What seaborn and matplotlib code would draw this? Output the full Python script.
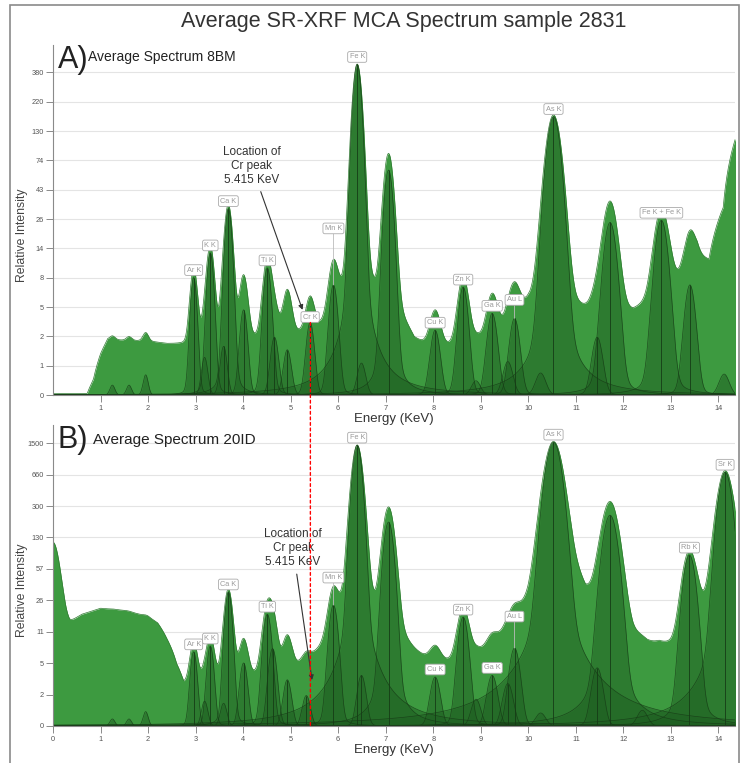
import numpy as np
import matplotlib
matplotlib.use("Agg")
import matplotlib.pyplot as plt
import seaborn as sns
from matplotlib.patches import ConnectionPatch, Rectangle

sns.set_theme(style="white")
plt.rcParams['font.family'] = ['Liberation Sans', 'DejaVu Sans']

# ---- panel A : 8BM ----
a_energy = [1.25, 1.60, 1.95, 2.96, 3.19, 3.31, 3.59, 3.69, 4.01, 4.51, 4.66, 4.93, 5.41, 5.90, 6.40, 6.49,
            7.06, 8.04, 8.63, 8.90, 9.24, 9.57, 9.71, 10.26, 10.53, 11.45, 11.72, 12.80, 13.40, 14.12]
a_fit = [0.2, 0.2, 0.45, 7.7, 1.0, 12.7, 1.45, 30, 3.8, 9.4, 1.9, 1.3, 2.8, 6.6, 440, 0.8,
         62, 2.3, 6.3, 0.3, 3.5, 0.85, 3.1, 0.5, 168, 1.9, 23, 24, 6.6, 0.47]
a_total = [0.2, 0.2, 0.45, 7.7, 1.0, 12.7, 1.45, 30, 6.2, 9.4, 1.9, 3.9, 2.8, 6.9, 440, 0.8,
           81, 2.3, 6.3, 0.3, 3.5, 0.85, 3.4, 0.5, 170, 1.9, 31, 24, 10, 0.5]
a_sigma = [0.05, 0.05, 0.05, 0.06, 0.06, 0.065, 0.065, 0.07, 0.07, 0.075, 0.075, 0.075, 0.075, 0.08, 0.08, 0.08,
           0.085, 0.09, 0.09, 0.09, 0.095, 0.095, 0.095, 0.1, 0.13, 0.1, 0.12, 0.12, 0.1, 0.1]
a_bg_energy = [0.0, 0.72, 0.85, 1.0, 1.15, 1.5, 2.0, 2.4, 2.8, 3.5, 4.2, 4.8, 5.2, 5.6, 6.0, 6.8, 7.3, 7.6,
               8.0, 8.4, 8.9, 9.5, 10.0, 11.0, 11.3, 12.2, 12.6, 13.0, 13.3, 13.55, 13.8, 14.1, 14.4]
a_bg_value = [0, 0, 0.3, 1.1, 1.75, 1.7, 1.65, 1.5, 1.45, 1.5, 1.6, 1.7, 1.8, 1.8, 2.5, 3, 2.2, 1.2,
              1.1, 1.2, 1.3, 1.8, 3.5, 2.8, 3.0, 3.3, 4.5, 6.5, 8, 12, 11, 30, 125]
a_yticks = ["0", "1", "2", "5", "8", "14", "26", "43", "74", "130", "220", "380"]
a_labels = ["Ar K", "K K", "Ca K", "Ti K", "Cr K", "Mn K", "Fe K", "Cu K", "Zn K", "Ga K", "Au L", "As K", "Fe K + Fe K"]
a_label_energy = [2.96, 3.31, 3.69, 4.51, 5.41, 5.90, 6.40, 8.04, 8.63, 9.24, 9.71, 10.53, 12.80]

# ---- panel B : 20ID ----
b_energy = [0.0, 1.25, 1.60, 1.95, 2.96, 3.19, 3.31, 3.59, 3.69, 4.01, 4.51, 4.62, 4.93, 5.33, 5.90, 6.40, 6.49,
            7.06, 8.04, 8.63, 8.90, 9.24, 9.57, 9.71, 10.26, 10.53, 11.45, 11.72, 12.40, 13.39, 14.14]
b_fit = [0, 0.2, 0.2, 0.45, 5.8, 0.9, 6.9, 0.8, 31, 4.1, 17, 6.4, 2.3, 1.2, 21.8, 1425, 2.7,
         194, 2.55, 15.7, 1.0, 2.7, 2.0, 6.5, 0.4, 1540, 3.5, 232, 0.5, 82, 707]
b_total = [100, 0.2, 0.2, 0.45, 5.8, 0.9, 6.9, 0.8, 31, 5.9, 17, 12, 6.0, 1.2, 23, 1425, 2.7,
           279, 2.55, 15.7, 1.0, 2.7, 2.0, 6.5, 0.4, 1540, 3.5, 317, 0.5, 82, 707]
b_sigma = [0.1, 0.05, 0.05, 0.05, 0.06, 0.06, 0.062, 0.062, 0.065, 0.07, 0.075, 0.075, 0.075, 0.075, 0.08, 0.085, 0.08,
           0.09, 0.09, 0.09, 0.09, 0.095, 0.095, 0.095, 0.1, 0.14, 0.1, 0.13, 0.1, 0.11, 0.12]
b_bg_energy = [0.0, 0.35, 0.6, 1.0, 1.5, 2.0, 2.2, 2.4, 2.6, 2.75, 2.85, 3.5, 5.0, 5.6, 6.0, 7.5, 8.0, 9.0,
               9.6, 10.0, 10.9, 11.2, 12.2, 12.5, 12.75, 13.0, 13.2, 13.7, 14.0, 14.4]
b_bg_value = [15, 12, 16, 19.5, 18.5, 15.5, 13, 8, 3.5, 1.5, 1.4, 1.4, 1.4, 1.4, 1.6, 1.6, 1.2, 1.2,
              2.0, 5, 40, 15, 2.5, 2.2, 3.0, 2.2, 2.0, 10, 20, 50]
b_yticks = ["0", "2", "5", "11", "26", "57", "130", "300", "660", "1500"]
b_labels = ["Ar K", "K K", "Ca K", "Ti K", "Mn K", "Fe K", "Cu K", "Zn K", "Ga K", "Au L", "As K", "Rb K", "Sr K"]
b_label_energy = [2.96, 3.31, 3.69, 4.51, 5.90, 6.40, 8.04, 8.63, 9.24, 9.71, 10.53, 13.39, 14.14]

cr_energy = 5.415

LIGHT = "#3d9a40"
DARK = "#1f5e21"
EDGE = "#163b16"

energy = np.linspace(0, 14.4, 2400)


def peak(e0, h, s, eta):
    g = np.exp(-0.5 * ((energy - e0) / s) ** 2)
    lo = 1.0 / (1.0 + ((energy - e0) / (1.1774 * s)) ** 2)
    return h * ((1 - eta) * g + eta * lo)


def fwd(y):
    return np.log10(1 + np.clip(y, 0, None))


def inv(t):
    return 10 ** t - 1


def draw_panel(ax, e_list, fit, total, sig, bg_e, bg_v, env_scale, env_eta, eta, top):
    env = np.interp(energy, bg_e, bg_v)
    for e0, h, s in zip(e_list, total, sig):
        env = env + peak(e0, h, s * env_scale, env_eta)
    ax.fill_between(energy, 0, env, color=LIGHT, lw=0, zorder=1)
    sns.lineplot(x=energy, y=env, ax=ax, color="#2f7a31", lw=0.5, estimator=None, zorder=2)
    for e0, h, s in zip(e_list, fit, sig):
        if h <= 0:
            continue
        comp = peak(e0, h, s, eta)
        ax.fill_between(energy, 0, comp, color=DARK, alpha=0.5, lw=0, zorder=3)
        ax.plot(energy, comp, color=EDGE, lw=0.5, alpha=0.8, zorder=4)
        if h > 1:
            ax.vlines(e0, 0, h, color=EDGE, lw=0.6, zorder=5)
    ax.set_yscale("function", functions=(fwd, inv))
    ax.set_xlim(0, 14.35)
    ax.set_ylim(0, top)


def style_axes(ax, ylabels, top_val, xticks, label_y):
    n = len(ylabels) - 1
    pos = [inv(k * fwd(top_val) / n) for k in range(n + 1)]
    ax.set_yticks(pos)
    ax.set_yticklabels(ylabels)
    ax.set_xticks(xticks)
    ax.set_xticklabels([str(v) for v in xticks])
    ax.yaxis.grid(True, color="#e4e4e4", lw=0.8)
    ax.xaxis.grid(False)
    ax.set_axisbelow(True)
    for sp in ["top", "right"]:
        ax.spines[sp].set_visible(False)
    for sp in ["left", "bottom"]:
        ax.spines[sp].set_color("#8a8a8a")
        ax.spines[sp].set_linewidth(0.8)
        ax.spines[sp].set_zorder(6)
    ax.tick_params(axis="y", left=True, length=5, width=0.7, color="#8a8a8a", labelsize=5.3,
                   labelcolor="#555555", pad=1.5)
    ax.tick_params(axis="x", bottom=True, length=5, width=0.7, color="#8a8a8a", labelsize=5.3,
                   labelcolor="#555555", pad=2)
    ax.set_ylabel("Relative Intensity", fontsize=8.8, color="#444444")
    ax.yaxis.set_label_coords(-0.037, label_y)
    ax.set_xlabel("Energy (KeV)", fontsize=9.5, color="#333333", labelpad=1)


def label_peaks(ax, names, energies, e_list, fit, offsets):
    for name, e0 in zip(names, energies):
        h = fit[e_list.index(e0)]
        dy = offsets.get(name, 4)
        ax.annotate(name, xy=(e0, h), xytext=(0, dy), textcoords="offset pixels",
                    ha="center", va="bottom", fontsize=5.3, color="#9a9a9a", zorder=8,
                    bbox=dict(boxstyle="round,pad=0.25", fc="white", ec="#aaaaaa", lw=0.6),
                    arrowprops=dict(arrowstyle="-", color="#bbbbbb", lw=0.6, shrinkA=0, shrinkB=0)
                    if dy > 10 else None)


fig = plt.figure(figsize=(7.41, 7.63), dpi=100)
axA = fig.add_axes([0.0715, 0.4823, 0.9205, 0.4587])
axB = fig.add_axes([0.0715, 0.0485, 0.9205, 0.3945])

draw_panel(axA, a_energy, a_fit, a_total, a_sigma, a_bg_energy, a_bg_value, 1.1, 0.1, 0.08, 630)
draw_panel(axB, b_energy, b_fit, b_total, b_sigma, b_bg_energy, b_bg_value, 1.15, 0.15, 0.06, 2400)
style_axes(axA, a_yticks, 380, list(range(1, 15)), 0.457)
style_axes(axB, b_yticks, 1500, list(range(0, 15)), 0.452)

label_peaks(axA, a_labels, a_label_energy, a_energy, a_fit, {"Mn K": 53, "Au L": 15, "Cr K": 2})
label_peaks(axB, b_labels, b_label_energy, b_energy, b_fit, {"Mn K": 24, "Au L": 28})

note = "Location of\nCr peak\n5.415 KeV"
axA.annotate(note, xy=(5.25, 3.8), xytext=(4.18, 67), ha="center", va="center", fontsize=8.5,
             color="#333333", zorder=9,
             arrowprops=dict(arrowstyle="-|>", color="#333333", lw=0.8, mutation_scale=7, shrinkA=2, shrinkB=0))
axB.annotate(note, xy=(5.45, 2.28), xytext=(5.05, 98), ha="center", va="center", fontsize=8.5,
             color="#333333", zorder=9,
             arrowprops=dict(arrowstyle="-|>", color="#333333", lw=0.8, mutation_scale=7, shrinkA=2, shrinkB=0))

cr_h = a_fit[a_energy.index(5.41)]
con = ConnectionPatch(xyA=(cr_energy, cr_h), coordsA=axA.transData, xyB=(cr_energy, 0), coordsB=axB.transData,
                      color="red", lw=1.0, linestyle=(0, (2, 2)), zorder=10)
fig.add_artist(con)

axA.text(0.007, 1.0, "A)", transform=axA.transAxes, fontsize=22, va="top", ha="left", color="#222222")
axA.text(0.052, 0.985, "Average Spectrum 8BM", transform=axA.transAxes, fontsize=10, va="top", ha="left",
         color="#222222")
axB.text(0.007, 1.0, "B)", transform=axB.transAxes, fontsize=22, va="top", ha="left", color="#222222")
axB.text(0.058, 0.975, "Average Spectrum 20ID", transform=axB.transAxes, fontsize=11, va="top", ha="left",
         color="#222222")

fig.text(0.545, 0.972, "Average SR-XRF MCA Spectrum sample 2831", ha="center", va="center", fontsize=15.5,
         color="#333333")
fig.add_artist(Rectangle((10 / 741, -0.01), 729 / 741, 1 - 5 / 763 + 0.01, transform=fig.transFigure,
                         fill=False, ec="#8a8a8a", lw=1.2))

fig.savefig("out.png", dpi=100)
